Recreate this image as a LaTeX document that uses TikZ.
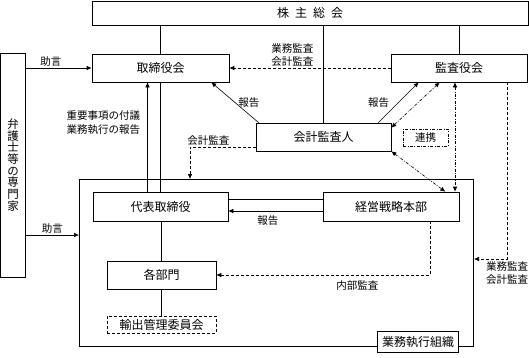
\documentclass[tikz,border=0pt]{standalone}
\usepackage{fontspec}
\setmainfont{Noto Sans CJK JP}
\usetikzlibrary{arrows.meta}

\begin{document}
\begin{tikzpicture}[x=1pt, y=-1pt, line width=0.6pt, >={Latex[length=5pt,width=4.5pt]},
  box/.style={draw, inner sep=0pt, font=\fontsize{12}{14}\selectfont},
  lbl/.style={font=\fontsize{10.5}{13.5}\selectfont, align=center, inner sep=1pt},
  dsh/.style={dash pattern=on 3pt off 2pt},
  dshdot/.style={dash pattern=on 3pt off 1.5pt on 0.8pt off 1.5pt}]
\useasboundingbox (0,0) rectangle (529,357);
\node[box, minimum width=436pt, minimum height=24pt] (soukai) at (310,13) {株\hspace{6pt}主\hspace{6pt}総\hspace{6pt}会};
\node[box, minimum width=137pt, minimum height=28pt] (torishimari) at (160.5,68) {取締役会};
\node[box, minimum width=136pt, minimum height=28pt] (kansayaku) at (459,68) {監査役会};
\node[box, minimum width=135pt, minimum height=28pt] (kaikei) at (323.5,137) {会計監査人};
\node[box, dshdot, minimum width=45pt, minimum height=17pt, font=\fontsize{10.5}{12}\selectfont] (renkei) at (425.5,137.5) {連携};
\node[draw, double, double distance=1.2pt, outer sep=1.2pt, minimum width=392.6pt, minimum height=165.6pt] (soshiki) at (276.5,263) {};
\node[box, minimum width=135pt, minimum height=29pt] (daihyo) at (160.5,206.5) {代表取締役};
\node[box, minimum width=136pt, minimum height=29pt] (senryaku) at (391,206.5) {経営戦略本部};
\node[box, minimum width=109pt, minimum height=28pt] (bumon) at (161.5,275) {各部門};
\node[box, dsh, minimum width=109pt, minimum height=17pt] (yushutsu) at (161.5,324.5) {輸出管理委員会};
\node[box, double, double distance=1.2pt, fill=white, minimum width=79.6pt, minimum height=19.6pt] (gyomu) at (418,342) {業務執行組織};
\node[box, minimum width=25pt, minimum height=224pt, align=center, font=\fontsize{11.5}{11.7}\selectfont] (senmonka) at (13,165) {弁\\護\\士\\等\\の\\専\\門\\家};
\coordinate (jogen) at ([yshift=28pt]soshiki.west);
% 株主総会から
\draw (torishimari.north) -- (torishimari.north |- soukai.south);
\draw (kansayaku.north) -- (kansayaku.north |- soukai.south);
\draw (kaikei.north) -- (kaikei.north |- soukai.south);
\draw (torishimari.south) -- (daihyo.north);
\draw[->] ([xshift=-13pt]daihyo.north) -- ([xshift=-13pt]torishimari.south) node[lbl, pos=0.63, left=6pt] {重要事項の付議\\業務執行の報告};
% 監査
\draw[->, dsh] (kansayaku.west) -- (torishimari.east) node[lbl, pos=0.61, above] {業務監査\\会計監査};
\draw[->] ([xshift=3pt]kaikei.north west) -- ([xshift=-18pt]torishimari.south east) node[lbl, midway, right=2pt] {報告};
\draw[->] ([xshift=-13pt]kaikei.north east) -- ([xshift=28pt]kansayaku.south west) node[lbl, midway, left=8pt] {報告};
\draw[<->, dshdot] ([yshift=-5pt]kaikei.north east) -- ([xshift=49pt]kansayaku.south west);
\draw[<->, dshdot] (kaikei.south east) -- ([xshift=-14pt]senryaku.north east);
\draw[<->, dshdot] ([xshift=-4pt]kansayaku.south) -- ([xshift=-4pt]kansayaku.south |- senryaku.north);
\draw[->, dsh] ([yshift=-10pt]kaikei.west) -| ([xshift=-86.5pt]soshiki.north) node[lbl, pos=0.36, above] {会計監査};
\draw[->, dsh] ([xshift=48pt]kansayaku.south) |- ([yshift=4pt]soshiki.east) node[lbl, pos=0.5, below=1pt] {業務監査\\会計監査};
% 業務執行組織の中
\draw ([yshift=7.5pt]senryaku.west) -- ([yshift=7.5pt]daihyo.east);
\draw[->] ([yshift=-4.5pt]senryaku.west) -- ([yshift=-4.5pt]daihyo.east) node[lbl, pos=0.58, below=3pt] {報告};
\draw[->, dsh] ([xshift=39pt]senryaku.south) |- (bumon.east) node[lbl, pos=0.67, below=4pt] {内部監査};
\draw (bumon.north) -- (bumon.north |- daihyo.south);
\draw (bumon.south) -- (yushutsu.north);
% 助言
\draw[->] (senmonka.east |- torishimari.west) -- (torishimari.west) node[lbl, pos=0.38, above] {助言};
\draw[->] (senmonka.east |- jogen) -- (jogen) node[lbl, midway, above] {助言};
\end{tikzpicture}
\end{document}
